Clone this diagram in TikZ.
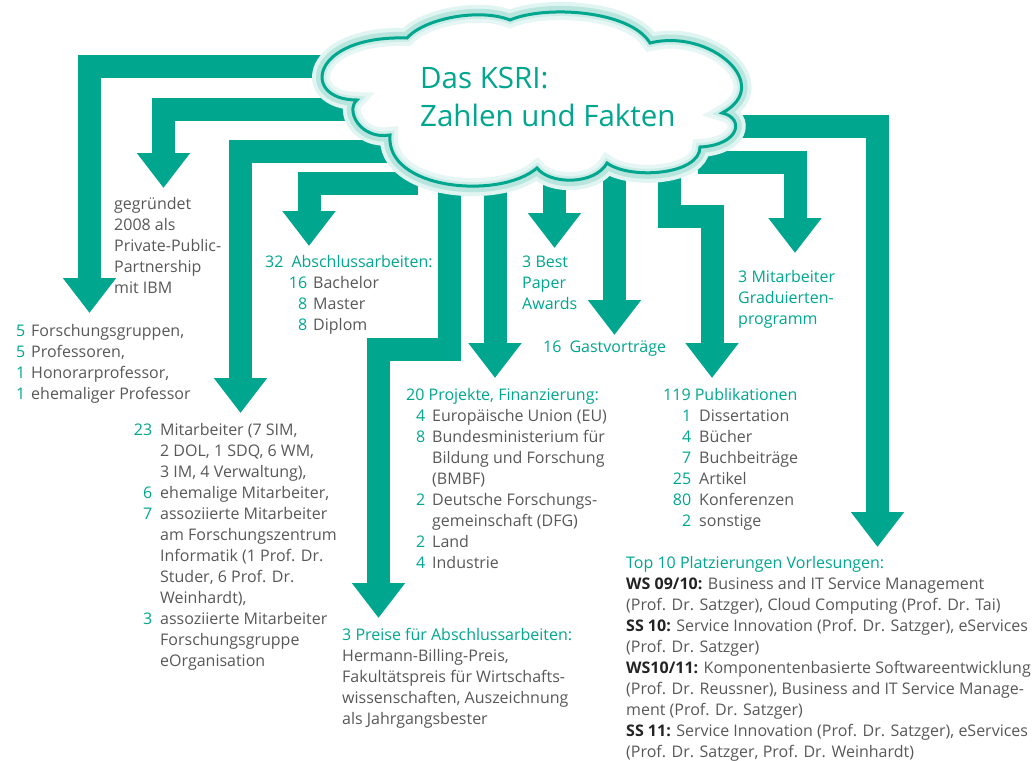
\documentclass[tikz,border=0pt]{standalone}
\usepackage{fontspec}
\setmainfont{Open Sans}
\usetikzlibrary{arrows.meta}
\definecolor{ksrigruen}{RGB}{0,166,142}
\definecolor{ksrigrau}{RGB}{88,88,88}
\definecolor{ksridunkel}{RGB}{35,35,35}
\newcommand{\zahl}[1]{\textcolor{ksrigruen}{#1}}
\newcommand{\nr}[1]{\makebox[20pt][r]{\zahl{#1}}}
\newcommand{\lbl}[1]{\textbf{\color{ksridunkel}#1}}
\newcommand{\fliess}{\fontsize{16}{21}\selectfont}
\newcommand{\titelschrift}{\fontsize{29.5}{38}\selectfont}
% Umriss der Wolke (Pixelkoordinaten, y nach unten)
\def\wolkenpfad{(407,38) .. controls (425,18) and (480,8) .. (510,20)
  .. controls (545,5) and (630,10) .. (650,43)
  .. controls (710,28) and (775,85) .. (722,113)
  .. controls (745,118) and (740,145) .. (700,147)
  .. controls (700,175) and (630,180) .. (607,163)
  .. controls (595,185) and (550,185) .. (537,168)
  .. controls (500,200) and (385,190) .. (390,135)
  .. controls (360,140) and (345,110) .. (357,100)
  .. controls (300,100) and (310,35) .. (407,38) -- cycle}
\tikzset{
  pfeil/.style={draw=ksrigruen, line width=23pt, line join=miter,
    -{Triangle[width=51pt,length=35pt]}},
  block/.style={anchor=north west, inner sep=0pt, text=ksrigrau, font=\fliess},
  gruen/.style={block, text=ksrigruen},
}
\begin{document}
\begin{tikzpicture}[x=1pt,y=-1pt]
\useasboundingbox (0,0) rectangle (1032,760);

% Abgaenge an der Wolke
\coordinate (ab-gruppen) at (400,66.5);
\coordinate (ab-gruendung) at (400,109.5);
\coordinate (ab-mitarbeiter) at (420,151);
\coordinate (ab-abschluss) at (418,183.5);
\coordinate (ab-preise) at (449.5,150);
\coordinate (ab-projekte) at (495,150);
\coordinate (ab-bestpaper) at (554.5,150);
\coordinate (ab-gast) at (614.5,150);
\coordinate (ab-publikationen) at (669.5,150);
\coordinate (ab-graduierte) at (698,162);
\coordinate (ab-vorlesungen) at (720,126);
% Pfeilspitzen
\coordinate (zu-gruppen) at (89.5,313);
\coordinate (zu-gruendung) at (163.5,188);
\coordinate (zu-mitarbeiter) at (240.5,413);
\coordinate (zu-abschluss) at (309,246);
\coordinate (zu-preise) at (378.5,618);
\coordinate (zu-projekte) at (495,378);
\coordinate (zu-bestpaper) at (554.5,248);
\coordinate (zu-gast) at (614.5,335);
\coordinate (zu-publikationen) at (712,378);
\coordinate (zu-graduierte) at (795,253);
\coordinate (zu-vorlesungen) at (877.5,547);

\draw[pfeil] (ab-gruppen) -| (zu-gruppen);
\draw[pfeil] (ab-gruendung) -| (zu-gruendung);
\draw[pfeil] (ab-mitarbeiter) -| (zu-mitarbeiter);
\draw[pfeil] (ab-abschluss) -| (zu-abschluss);
\draw[pfeil] (ab-preise) -- ++(0,199.5) -| (zu-preise);
\draw[pfeil] (ab-projekte) -- (zu-projekte);
\draw[pfeil] (ab-bestpaper) -- (zu-bestpaper);
\draw[pfeil] (ab-gast) -- (zu-gast);
\draw[pfeil] (ab-publikationen) -- ++(0,66) -| (zu-publikationen);
\draw[pfeil] (ab-graduierte) -| (zu-graduierte);
\draw[pfeil] (ab-vorlesungen) -| (zu-vorlesungen);

% Wolke mit Schein
\draw[line width=20pt, ksrigruen!12] \wolkenpfad;
\draw[line width=12pt, ksrigruen!28] \wolkenpfad;
\fill[white] \wolkenpfad;
\begin{scope}
  \clip \wolkenpfad;
  \draw[line width=16pt, ksrigruen!10] \wolkenpfad;
  \draw[line width=8pt, ksrigruen!20] \wolkenpfad;
\end{scope}
\draw[line width=3pt, ksrigruen] \wolkenpfad;
\node[anchor=north west, inner sep=0pt, text=ksrigruen, font=\titelschrift, align=left] (ksri) at (420,67)
  {Das KSRI:\\Zahlen und Fakten};

% Texte
\node[block] (gruppen) at (5,321.3) {\begin{tabular}{@{}l@{\hspace{6pt}}l@{}}
  \nr{5} & Forschungsgruppen,\\
  \nr{5} & Professoren,\\
  \nr{1} & Honorarprofessor,\\
  \nr{1} & ehemaliger Professor
\end{tabular}};
\node[block] (gruendung) at (114,194.3) {\begin{tabular}{@{}l@{}}
  gegründet\\ 2008 als\\ Private-Public-\\ Partnership\\ mit IBM
\end{tabular}};
\node[gruen] (abschluss) at (265,252.3) {\begin{tabular}{@{}l@{}}
  32\enspace Abschlussarbeiten:
\end{tabular}};
\node[block] (abschlussliste) at (287,273.3) {\begin{tabular}{@{}l@{\hspace{6pt}}l@{}}
  \nr{16} & Bachelor\\
  \nr{8} & Master\\
  \nr{8} & Diplom
\end{tabular}};
\node[block] (mitarbeiter) at (132,420.3) {\begin{tabular}{@{}l@{\hspace{8pt}}l@{}}
  \nr{23} & Mitarbeiter (7 SIM,\\
          & 2 DOL, 1 SDQ, 6 WM,\\
          & 3 IM, 4 Verwaltung),\\
  \nr{6}  & ehemalige Mitarbeiter,\\
  \nr{7}  & assoziierte Mitarbeiter\\
          & am Forschungszentrum\\
          & Informatik (1 Prof. Dr.\\
          & Studer, 6 Prof. Dr.\\
          & Weinhardt),\\
  \nr{3}  & assoziierte Mitarbeiter\\
          & Forschungsgruppe\\
          & eOrganisation
\end{tabular}};
\node[gruen] (bestpaper) at (522,252.3) {\begin{tabular}{@{}l@{}}
  3 Best\\ Paper\\ Awards
\end{tabular}};
\node[gruen] (gast) at (543,337.3) {\begin{tabular}{@{}l@{}}
  16\enspace Gastvorträge
\end{tabular}};
\node[gruen] (graduierte) at (738,267.3) {\begin{tabular}{@{}l@{}}
  3 Mitarbeiter\\ Graduierten-\\ programm
\end{tabular}};
\node[gruen] (projekte) at (406,385.3) {\begin{tabular}{@{}l@{}}
  20 Projekte, Finanzierung:
\end{tabular}};
\node[block] (projektliste) at (405,406.3) {\begin{tabular}{@{}l@{\hspace{7pt}}l@{}}
  \nr{4} & Europäische Union (EU)\\
  \nr{8} & Bundesministerium für\\
         & Bildung und Forschung\\
         & (BMBF)\\
  \nr{2} & Deutsche Forschungs-\\
         & gemeinschaft (DFG)\\
  \nr{2} & Land\\
  \nr{4} & Industrie
\end{tabular}};
\node[gruen] (publikationen) at (663,385.3) {\begin{tabular}{@{}l@{}}
  119 Publikationen
\end{tabular}};
\node[block] (publikationsliste) at (671,406.3) {\begin{tabular}{@{}l@{\hspace{8pt}}l@{}}
  \nr{1}  & Dissertation\\
  \nr{4}  & Bücher\\
  \nr{7}  & Buchbeiträge\\
  \nr{25} & Artikel\\
  \nr{80} & Konferenzen\\
  \nr{2}  & sonstige
\end{tabular}};
\node[block] (preise) at (342,625.3) {\begin{tabular}{@{}l@{}}
  \zahl{3 Preise für Abschlussarbeiten:}\\
  Hermann-Billing-Preis,\\
  Fakultätspreis für Wirtschafts-\\
  wissenschaften, Auszeichnung\\
  als Jahrgangsbester
\end{tabular}};
\node[block] (vorlesungen) at (626,553.3) {\begin{tabular}{@{}l@{}}
  \zahl{Top 10 Platzierungen Vorlesungen:}\\
  \lbl{WS 09/10:} Business and IT Service Management\\
  (Prof. Dr. Satzger), Cloud Computing (Prof. Dr. Tai)\\
  \lbl{SS 10:} Service Innovation (Prof. Dr. Satzger), eServices\\
  (Prof. Dr. Satzger)\\
  \lbl{WS10/11:} Komponentenbasierte Softwareentwicklung\\
  (Prof. Dr. Reussner), Business and IT Service Manage-\\
  ment (Prof. Dr. Satzger)\\
  \lbl{SS 11:} Service Innovation (Prof. Dr. Satzger), eServices\\
  (Prof. Dr. Satzger, Prof. Dr. Weinhardt)
\end{tabular}};
\end{tikzpicture}
\end{document}
